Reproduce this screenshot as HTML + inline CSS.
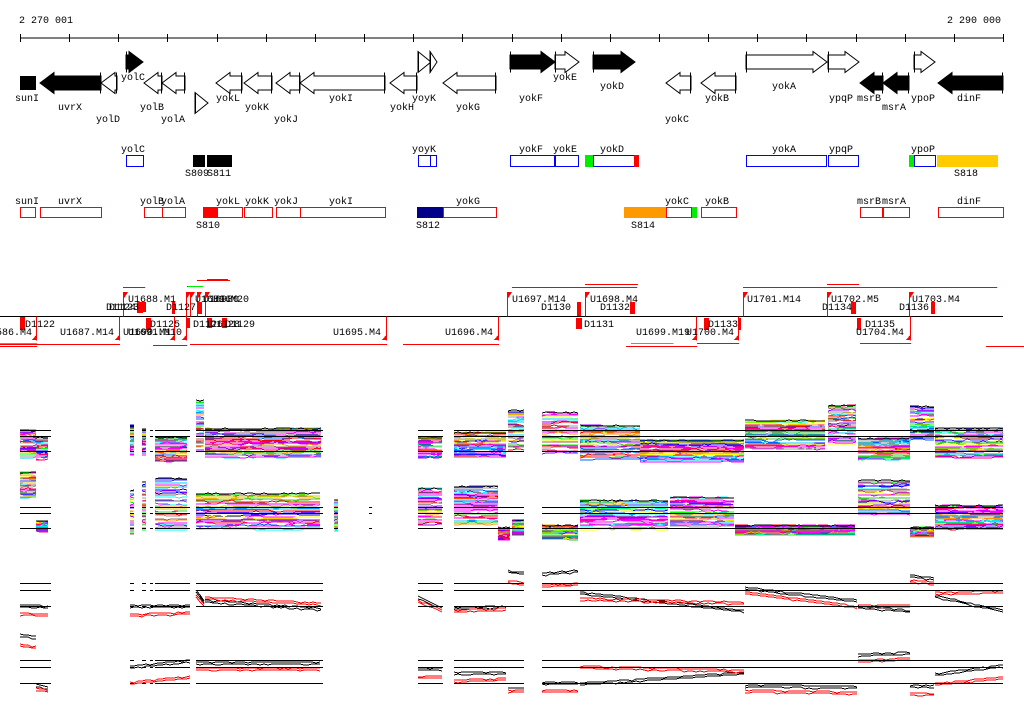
<!DOCTYPE html>
<html><head><meta charset="utf-8">
<style>
html,body{margin:0;padding:0;background:#fff;width:1024px;height:714px;overflow:hidden}
svg text{font-family:"Liberation Mono",monospace;font-size:10px;fill:#000}
</style></head>
<body>
<svg id="s" xmlns="http://www.w3.org/2000/svg" width="1024" height="714" viewBox="0 0 1024 714" shape-rendering="crispEdges">
<text x="19" y="23">2 270 001</text>
<text x="947" y="23">2 290 000</text>
<line x1="20" y1="38" x2="1003" y2="38" stroke="#000"/>
<g id="ticks"></g>
<g id="genes"></g>
<text x="15" y="101">sunI</text>
<text x="58" y="110">uvrX</text>
<text x="96" y="122">yolD</text>
<text x="121" y="80">yolC</text>
<text x="140" y="110">yolB</text>
<text x="161" y="122">yolA</text>
<text x="216" y="101">yokL</text>
<text x="245" y="110">yokK</text>
<text x="274" y="122">yokJ</text>
<text x="329" y="101">yokI</text>
<text x="390" y="110">yokH</text>
<text x="412" y="101">yoyK</text>
<text x="456" y="110">yokG</text>
<text x="519" y="101">yokF</text>
<text x="553" y="80">yokE</text>
<text x="600" y="89">yokD</text>
<text x="665" y="122">yokC</text>
<text x="705" y="101">yokB</text>
<text x="772" y="89">yokA</text>
<text x="829" y="101">ypqP</text>
<text x="857" y="101">msrB</text>
<text x="882" y="110">msrA</text>
<text x="911" y="101">ypoP</text>
<text x="957" y="101">dinF</text>
<g fill="none" stroke="#0000ff" stroke-width="1">
<rect x="126.5" y="155.5" width="17" height="11"/>
<rect x="418.5" y="155.5" width="18" height="11"/><line x1="430.5" y1="155" x2="430.5" y2="167"/>
<rect x="510.5" y="155.5" width="44" height="11"/>
<rect x="555.5" y="155.5" width="23" height="11"/>
<rect x="593.5" y="155.5" width="41" height="11"/>
<rect x="746.5" y="155.5" width="80" height="11"/>
<rect x="828.5" y="155.5" width="30" height="11"/>
<rect x="914.5" y="155.5" width="21" height="11"/>
</g>
<rect x="585" y="155" width="8" height="12" fill="#00ee00"/>
<rect x="634" y="155" width="5" height="12" fill="#ff0000"/>
<rect x="909" y="155" width="5" height="12" fill="#00ee00"/>
<rect x="937" y="155" width="61" height="12" fill="#ffcc00"/>
<rect x="193" y="155" width="12" height="12" fill="#000"/>
<rect x="207" y="155" width="25" height="12" fill="#000"/>
<text x="121" y="152">yolC</text>
<text x="412" y="152">yoyK</text>
<text x="519" y="152">yokF</text>
<text x="553" y="152">yokE</text>
<text x="600" y="152">yokD</text>
<text x="772" y="152">yokA</text>
<text x="829" y="152">ypqP</text>
<text x="911" y="152">ypoP</text>
<text x="185" y="176">S809</text>
<text x="207" y="176">S811</text>
<text x="954" y="176">S818</text>
<rect x="203" y="207" width="14" height="11" fill="#ff0000"/>
<rect x="417" y="207" width="26" height="11" fill="#000088"/>
<rect x="624" y="207" width="42" height="11" fill="#ff9900"/>
<rect x="691" y="207" width="6" height="11" fill="#00ee00"/>
<g fill="none" stroke="#ff0000">
<rect x="20.5" y="207.5" width="15" height="10"/>
<rect x="40.5" y="207.5" width="61" height="10"/>
<rect x="144.5" y="207.5" width="18" height="10"/>
<rect x="162.5" y="207.5" width="23" height="10"/>
<rect x="217.5" y="207.5" width="25" height="10"/>
<rect x="244.5" y="207.5" width="28" height="10"/>
<rect x="276.5" y="207.5" width="24" height="10"/>
<rect x="300.5" y="207.5" width="85" height="10"/>
<rect x="443.5" y="207.5" width="53" height="10"/>
<rect x="666.5" y="207.5" width="25" height="10"/>
<rect x="701.5" y="207.5" width="35" height="10"/>
<rect x="860.5" y="207.5" width="22" height="10"/>
<rect x="883.5" y="207.5" width="26" height="10"/>
<rect x="938.5" y="207.5" width="65" height="10"/>
</g>
<text x="15" y="204">sunI</text>
<text x="58" y="204">uvrX</text>
<text x="140" y="204">yolB</text>
<text x="161" y="204">yolA</text>
<text x="216" y="204">yokL</text>
<text x="245" y="204">yokK</text>
<text x="274" y="204">yokJ</text>
<text x="329" y="204">yokI</text>
<text x="456" y="204">yokG</text>
<text x="665" y="204">yokC</text>
<text x="705" y="204">yokB</text>
<text x="857" y="204">msrB</text>
<text x="882" y="204">msrA</text>
<text x="957" y="204">dinF</text>
<text x="196" y="228">S810</text>
<text x="416" y="228">S812</text>
<text x="631" y="228">S814</text>
<line x1="0" y1="316.5" x2="1003" y2="316.5" stroke="#000"/>
<g id="r4"></g>
<text x="128" y="302">U1688.M1</text>
<text x="195" y="302">U1689.M20</text>
<text x="203" y="302">U16980</text>
<text x="213" y="302">U16</text>
<text x="512" y="302">U1697.M14</text>
<text x="590" y="302">U1698.M4</text>
<text x="747" y="302">U1701.M14</text>
<text x="831" y="302">U1702.M5</text>
<text x="912" y="302">U1703.M4</text>
<text x="106" y="310">D1124</text><text x="109" y="310">D1123</text>
<text x="166" y="310">D1127</text>
<text x="541" y="310">D1130</text>
<text x="600" y="310">D1132</text>
<text x="822" y="310">D1134</text>
<text x="899" y="310">D1136</text>
<text x="25" y="327">D1122</text>
<text x="150" y="327">D1125</text>
<text x="193" y="327">D1126</text><text x="210" y="327">D1128</text><text x="225" y="327">D1129</text>
<text x="584" y="327">D1131</text>
<text x="708" y="327">D1133</text>
<text x="865" y="327">D1135</text>
<text x="-4" y="335">586.M4</text>
<text x="60" y="335">U1687.M14</text>
<text x="123" y="335">U1690.M1</text><text x="128" y="335">U1691.M10</text>
<text x="333" y="335">U1695.M4</text>
<text x="445" y="335">U1696.M4</text>
<text x="636" y="335">U1699.M19</text>
<text x="686" y="335">U1700.M4</text>
<text x="856" y="335">U1704.M4</text>
<g id="plots"></g>
</svg>
<script>
var NS="http://www.w3.org/2000/svg";
function el(p,t,a){var e=document.createElementNS(NS,t);for(var k in a)e.setAttribute(k,a[k]);document.getElementById(p).appendChild(e);return e;}
for(var i=0;i<21;i++){var x=Math.round(20+i*49.15)+.5;el('ticks','line',{x1:x,y1:34,x2:x,y2:42,stroke:'#000'});}
function arrow(x0,x1,dir,fill,cy){var h=Math.min(14,x1-x0),p;
 if(dir>0)p=[[x0,cy-7],[x1-h,cy-7],[x1-h,cy-10.5],[x1,cy],[x1-h,cy+10.5],[x1-h,cy+7],[x0,cy+7]];
 else p=[[x1,cy-7],[x0+h,cy-7],[x0+h,cy-10.5],[x0,cy],[x0+h,cy+10.5],[x0+h,cy+7],[x1,cy+7]];
 el('genes','polygon',{points:p.map(function(q){return q.join(',')}).join(' '),fill:fill,stroke:'#000','stroke-width':1,'shape-rendering':'auto'});
 var tx=dir>0?x0+.5:x1-.5;el('genes','line',{x1:tx,y1:cy-10.5,x2:tx,y2:cy+10.5,stroke:'#000'});}
el('genes','rect',{x:20,y:76,width:16,height:14,fill:'#000'});
var A=[[40,101,-1,'#000',83],[101,117,-1,'#fff',83],[126,143,1,'#000',62],[144,162,-1,'#fff',83],[162,185,-1,'#fff',83],[195,208,1,'#fff',103],
[216,242,-1,'#fff',83],[244,272,-1,'#fff',83],[276,300,-1,'#fff',83],[300,385,-1,'#fff',83],[390,417,-1,'#fff',83],[418,431,1,'#fff',62],[430,437,1,'#fff',62],
[443,496,-1,'#fff',83],[510,555,1,'#000',62],[555,579,1,'#fff',62],[593,635,1,'#000',62],[666,691,-1,'#fff',83],[701,736,-1,'#fff',83],
[746,827,1,'#fff',62],[828,859,1,'#fff',62],[860,883,-1,'#000',83],[883,909,-1,'#000',83],[914,935,1,'#fff',62],[938,1003,-1,'#000',83]];
A.forEach(function(a){arrow.apply(null,a)});
var R='#ff0000';
function ln(x1,y1,x2,y2,c){el('r4','line',{x1:x1,y1:y1+.5,x2:x2,y2:y2+.5,stroke:c||R});}
function rc(x,y,w,h){el('r4','rect',{x:x,y:y,width:w,height:h,fill:R});}
function flag(x,y){el('r4','polygon',{points:x+','+y+' '+(x+5)+','+y+' '+x+','+(y+8),fill:R});ln(x+.5,y,x+.5,316);}
function tri(x,y){el('r4','polygon',{points:x+','+y+' '+x+','+(y-6)+' '+(x-5)+','+y,fill:R});ln(x-.5,316,x-.5,y);}
[[0,37,344],[37,120,344],[153,187,345],[190,387,344],[403,499,344],[626,697,346],[697,739,343],[860,911,343],[986,1024,346],
[123,145,287],[187,200,286],[197,230,280],[207,228,279],[512,637,287],[585,638,284],[743,997,287],[827,859,284],[909,997,287],[0,37,346]].forEach(function(a){ln(a[0],a[2],a[1],a[2]);});
ln(0,343,37,343,'#00ee00');ln(631,343,673,343,'#00ee00');ln(188,286,203,286,'#00ee00');
[123,186,190,197,205,507,585,743,827,909].forEach(function(x){flag(x,292);});
[37,120,175,187,387,499,697,739,911].forEach(function(x){tri(x,340);});
[[20,317,5,13],[137,302,6,11],[142,302,4,10],[146,318,5,12],[172,302,3,12],[197,302,5,12],[186,318,4,10],[207,318,5,10],[222,318,5,10],
[576,318,6,11],[577,302,4,14],[630,302,5,12],[704,318,5,12],[738,318,3,12],[851,302,5,12],[857,318,4,12],[931,302,4,12]].forEach(function(a){rc(a[0],a[1],a[2],a[3]);});
var seed=7;function rnd(){seed=(seed*16807)%2147483647;return seed/2147483647;}
var cols=['#ff00ff','#00ffff','#0066ff','#ff0000','#00ff00','#ffff00','#ff9900','#999999','#9900ff','#ff00ff','#00ccff','#cccc00','#3333ff','#ff0066','#33cc33','#0000ff','#ff00ff','#996666'];
function P(){return 'plots';}
function band(x0,x1,top,bot,n){
 for(var k=0;k<n;k++){var base=top+(bot-top)*(k+rnd())/n,y=base,pts=[];
  for(var x=x0;x<=x1;x+=4){if(rnd()<0.3)y+=(rnd()-0.5)*3; y=Math.max(top,Math.min(bot,y*0.8+base*0.2)); pts.push(x+','+Math.round(y));}
  el(P(),'polyline',{points:pts.join(' '),fill:'none',stroke:cols[Math.floor(rnd()*cols.length)],'stroke-width':1});}
 var pts=[],y=top;for(var x=x0;x<=x1;x+=4){pts.push(x+','+Math.round(top+rnd()*1.5));}
 el(P(),'polyline',{points:pts.join(' '),fill:'none',stroke:'#000','stroke-width':1});}
function refs(x0,x1,ys){ys.forEach(function(y){el(P(),'line',{x1:x0,y1:y+.5,x2:x1,y2:y+.5,stroke:'#000'});});}
var segs=[[20,51],[130,134],[142,146],[150,153],[155,190],[196,323],[418,443],[454,524],[542,1003]];
var p1=[[20,36,430,458],[36,51,437,460],[130,134,425,455],[142,146,428,455],[150,153,430,455],[155,190,437,462],[196,205,400,450],[205,323,428,458],
[418,443,437,458],[454,508,432,458],[508,524,410,450],[542,580,412,455],[580,640,425,460],[640,745,440,462],[745,828,420,450],[828,858,405,445],[858,910,438,460],[910,935,406,440],[935,1003,428,458]];
var p2=[[20,36,472,498],[36,51,520,532],[130,134,490,535],[142,146,482,530],[150,153,480,530],[155,190,478,530],[196,323,493,530],[334,338,500,532],[369,372,502,532],
[418,443,488,525],[454,498,486,525],[498,512,527,540],[512,524,520,535],[542,580,525,540],[580,670,500,530],[670,735,497,527],[735,858,525,535],[858,910,480,515],[910,935,527,537],[935,1003,505,530]];
p1.forEach(function(a){band(a[0],a[1],a[2],a[3],28);});
p2.forEach(function(a){band(a[0],a[1],a[2],a[3],28);});
segs.forEach(function(s){refs(s[0],s[1],[430,436,451]);});
segs.concat([[334,338],[369,372]]).forEach(function(s){refs(s[0],s[1],[507,513,528]);});
function pair(x0,x1,yb0,yb1,yr0,yr1){
 ['#000','#000','#ff0000','#ff0000'].forEach(function(c,i){var a=i<2?yb0:yr0,b=i<2?yb1:yr1,pts=[],off=(i%2)*2;
  for(var x=x0;x<=x1;x+=4){var t=(x-x0)/Math.max(1,x1-x0);pts.push(x+','+Math.round(a+(b-a)*t+off+(rnd()<0.2?1:0)));}
  el(P(),'polyline',{points:pts.join(' '),fill:'none',stroke:c,'stroke-width':1});});}
var p3=[[20,51,604,606,613,614],[130,190,605,605,614,612],[196,205,590,602,595,605],[205,323,600,608,597,603],[418,443,596,609,600,610],[454,508,607,606,610,608],[508,524,570,572,580,582],
[542,580,573,570,585,583],[580,745,592,610,598,602],[745,858,587,600,592,606],[858,910,606,610,605,605],[910,935,575,578,580,582],[935,1003,595,610,592,591]];
var p4=[[20,36,634,636,644,646],[36,51,684,688,688,690],[130,190,666,660,682,676],[196,323,662,662,668,668],[418,443,668,668,676,676],[454,508,672,672,680,678],[508,524,688,688,690,690],
[542,580,682,682,690,690],[580,745,683,672,666,670],[745,858,685,686,690,692],[858,910,654,652,660,658],[910,935,685,685,693,693],[935,1003,673,665,683,677]];
p3.forEach(function(a){pair.apply(null,a);});
p4.forEach(function(a){pair.apply(null,a);});
segs.forEach(function(s){refs(s[0],s[1],[583,590,606]);refs(s[0],s[1],[660,667,683]);});
</script>
</body></html>
